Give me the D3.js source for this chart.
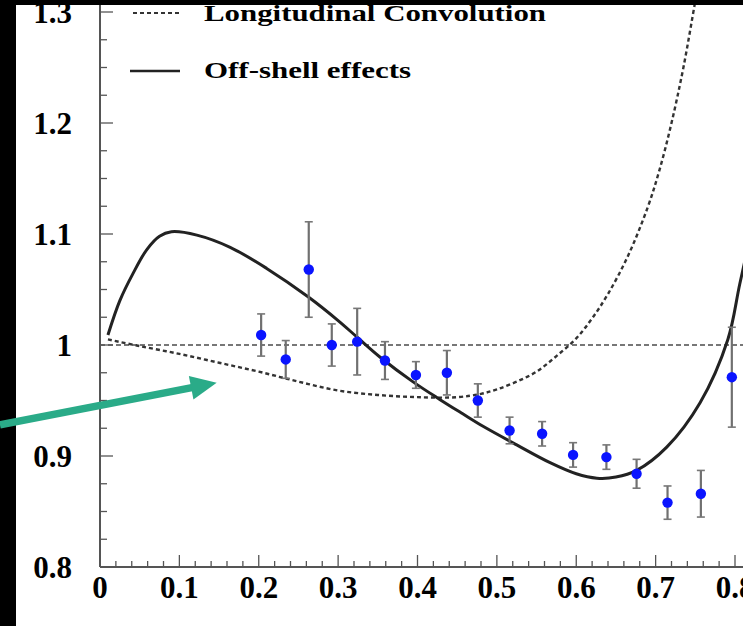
<!DOCTYPE html>
<html>
<head>
<meta charset="utf-8">
<script src="https://cdn.jsdelivr.net/npm/d3@7"></script>
<style>
  body { margin: 0; background: #fff; }
  svg { display: block; }
  .tick-label { font-family: "Liberation Serif", serif; font-weight: bold; font-size: 31px; fill: #000; }
  .legend-label { font-family: "Liberation Serif", serif; font-weight: bold; font-size: 24px; fill: #000; }
</style>
</head>
<body>
<svg id="graph" width="743" height="626"></svg>
<script>
// ======================= DATA =======================
let pointX = [0.203, 0.234, 0.263, 0.292, 0.324, 0.359, 0.398, 0.437, 0.476, 0.516, 0.557, 0.596, 0.638, 0.676, 0.715, 0.757, 0.796]
let pointY = [1.009, 0.987, 1.068, 1.000, 1.003, 0.986, 0.973, 0.975, 0.950, 0.923, 0.920, 0.901, 0.899, 0.884, 0.858, 0.866, 0.971]
let pointErr = [0.019, 0.017, 0.043, 0.019, 0.030, 0.017, 0.012, 0.020, 0.015, 0.012, 0.011, 0.011, 0.011, 0.013, 0.015, 0.021, 0.045]

let convX = [0.01, 0.05, 0.1, 0.15, 0.2, 0.25, 0.3, 0.35, 0.4, 0.45, 0.48, 0.5, 0.525, 0.55, 0.575, 0.6, 0.62, 0.64, 0.665, 0.69, 0.705, 0.72, 0.735, 0.75, 0.76]
let convY = [1.005, 0.999, 0.992, 0.984, 0.976, 0.967, 0.959, 0.955, 0.953, 0.953, 0.956, 0.960, 0.967, 0.976, 0.99, 1.006, 1.024, 1.046, 1.08, 1.124, 1.158, 1.2, 1.25, 1.31, 1.35]

let offX = [0.01, 0.025, 0.042, 0.059, 0.075, 0.09, 0.122, 0.164, 0.21, 0.263, 0.3, 0.324, 0.353, 0.394, 0.428, 0.457, 0.482, 0.525, 0.567, 0.6, 0.626, 0.65, 0.676, 0.714, 0.756, 0.791, 0.806, 0.82]
let offY = [1.009, 1.04, 1.065, 1.086, 1.098, 1.102, 1.099, 1.088, 1.069, 1.043, 1.022, 1.007, 0.989, 0.967, 0.951, 0.938, 0.927, 0.910, 0.894, 0.884, 0.880, 0.881, 0.887, 0.908, 0.948, 1.005, 1.055, 1.1]

let xTicks = [0, 0.1, 0.2, 0.3, 0.4, 0.5, 0.6, 0.7, 0.8]
let yTicks = [0.8, 0.9, 1, 1.1, 1.2, 1.3]
let legendNames = ["Longitudinal Convolution", "Off-shell effects"]

// arrow annotation, in data units
let arrowFrom = [-0.126, 0.928]
let arrowTo = [0.147, 0.966]

// ========================= SET UP SVG =========================
let svg = d3.select("#graph")
svg.append("rect").attr("width", 743).attr("height", 626).attr("fill", "#fff")

let x = d3.scaleLinear().domain([0, 0.8]).range([100, 735])
let y = d3.scaleLinear().domain([0.8, 1.3]).range([567, 12])

svg.append("clipPath").attr("id", "plot-clip")
  .append("rect").attr("x", x(0)).attr("y", 0).attr("width", 743 - x(0)).attr("height", y(0.8))

let plot = svg.append("g").attr("clip-path", "url(#plot-clip)")

// ========================= AXES =========================
let axisColor = "#555"
let xMinor = d3.range(0, 0.83, 0.02)
let yMinor = d3.range(0.8, 1.32, 0.025)

let ax = svg.append("g")
ax.append("line").attr("x1", x(0)).attr("x2", 743).attr("y1", y(0.8)).attr("y2", y(0.8))
  .attr("stroke", axisColor).attr("stroke-width", 2)
ax.append("line").attr("x1", x(0)).attr("x2", x(0)).attr("y1", y(0.8)).attr("y2", 0)
  .attr("stroke", axisColor).attr("stroke-width", 2)

ax.selectAll(".xminor").data(xMinor).enter().append("line")
  .attr("x1", d => x(d)).attr("x2", d => x(d))
  .attr("y1", y(0.8)).attr("y2", d => y(0.8) - (Math.abs(d * 10 - Math.round(d * 10)) < 1e-6 ? 12 : 6))
  .attr("stroke", axisColor).attr("stroke-width", 1.3)

ax.selectAll(".yminor").data(yMinor).enter().append("line")
  .attr("y1", d => y(d)).attr("y2", d => y(d))
  .attr("x1", x(0)).attr("x2", d => x(0) + (Math.abs(d * 10 - Math.round(d * 10)) < 1e-6 ? 13 : 7))
  .attr("stroke", axisColor).attr("stroke-width", 1.3)

svg.selectAll(".xlab").data(xTicks).enter().append("text")
  .attr("class", "tick-label")
  .attr("x", d => x(d)).attr("y", y(0.8) + 31)
  .attr("text-anchor", "middle")
  .text(d => d === 0 ? "0" : d3.format(".1f")(d))

svg.selectAll(".ylab").data(yTicks).enter().append("text")
  .attr("class", "tick-label")
  .attr("x", 72).attr("y", d => y(d)).attr("dy", "0.35em")
  .attr("text-anchor", "end")
  .text(d => d === 1 ? "1" : d3.format(".1f")(d))

// ========================= CURVES =========================
let line = d3.line()
  .curve(d3.curveCatmullRom)
  .x(d => x(d[0]))
  .y(d => y(d[1]))

plot.append("line")
  .attr("x1", x(0)).attr("x2", 743).attr("y1", y(1)).attr("y2", y(1))
  .attr("stroke", "#777").attr("stroke-width", 2.2).attr("stroke-dasharray", "5,3")

plot.append("path")
  .attr("d", line(d3.zip(convX, convY)))
  .attr("fill", "none").attr("stroke", "#333").attr("stroke-width", 2.4)
  .attr("stroke-dasharray", "4,3")

plot.append("path")
  .attr("d", line(d3.zip(offX, offY)))
  .attr("fill", "none").attr("stroke", "#222").attr("stroke-width", 3)

// ========================= DATA POINTS =========================
let pts = d3.range(pointX.length).map(i => ({x: pointX[i], y: pointY[i], e: pointErr[i]}))
let pg = plot.selectAll(".pt").data(pts).enter().append("g")

pg.append("line")
  .attr("x1", d => x(d.x)).attr("x2", d => x(d.x))
  .attr("y1", d => y(d.y - d.e)).attr("y2", d => y(d.y + d.e))
  .attr("stroke", "#707070").attr("stroke-width", 2.2)
pg.append("line")
  .attr("x1", d => x(d.x) - 4).attr("x2", d => x(d.x) + 4)
  .attr("y1", d => y(d.y + d.e)).attr("y2", d => y(d.y + d.e))
  .attr("stroke", "#777").attr("stroke-width", 1.6)
pg.append("line")
  .attr("x1", d => x(d.x) - 4).attr("x2", d => x(d.x) + 4)
  .attr("y1", d => y(d.y - d.e)).attr("y2", d => y(d.y - d.e))
  .attr("stroke", "#777").attr("stroke-width", 1.6)
pg.append("circle")
  .attr("cx", d => x(d.x)).attr("cy", d => y(d.y)).attr("r", 5.2)
  .attr("fill", "#0a14ff")

// ========================= LEGEND =========================
svg.append("line").attr("x1", 133).attr("x2", 180).attr("y1", 13).attr("y2", 13)
  .attr("stroke", "#333").attr("stroke-width", 2.2).attr("stroke-dasharray", "4,3")
svg.append("line").attr("x1", 130).attr("x2", 180).attr("y1", 71).attr("y2", 71)
  .attr("stroke", "#222").attr("stroke-width", 2.4)

svg.append("text").attr("class", "legend-label")
  .attr("x", 204).attr("y", 21)
  .attr("textLength", 342).attr("lengthAdjust", "spacingAndGlyphs")
  .text(legendNames[0])
svg.append("text").attr("class", "legend-label")
  .attr("x", 204).attr("y", 78)
  .attr("textLength", 207).attr("lengthAdjust", "spacingAndGlyphs")
  .text(legendNames[1])

// ========================= BORDER & ARROW =========================
svg.append("rect").attr("x", 0).attr("y", 0).attr("width", 743).attr("height", 5).attr("fill", "#000")
svg.append("rect").attr("x", 0).attr("y", 0).attr("width", 16).attr("height", 626).attr("fill", "#000")

let arrowColor = "#2aab88"
let ax0 = x(arrowFrom[0]), ay0 = y(arrowFrom[1]), ax1 = x(arrowTo[0]), ay1 = y(arrowTo[1])
let ang = Math.atan2(ay1 - ay0, ax1 - ax0)
let headLen = 26, headHalf = 12
let bx = ax1 - headLen * Math.cos(ang), by = ay1 - headLen * Math.sin(ang)
svg.append("line")
  .attr("x1", ax0).attr("y1", ay0).attr("x2", bx + 2 * Math.cos(ang)).attr("y2", by + 2 * Math.sin(ang))
  .attr("stroke", arrowColor).attr("stroke-width", 7.5)
svg.append("path")
  .attr("d", d3.line()([
    [ax1, ay1],
    [bx - headHalf * Math.sin(ang), by + headHalf * Math.cos(ang)],
    [bx + headHalf * Math.sin(ang), by - headHalf * Math.cos(ang)]
  ]) + "Z")
  .attr("fill", arrowColor)
</script>
</body>
</html>
